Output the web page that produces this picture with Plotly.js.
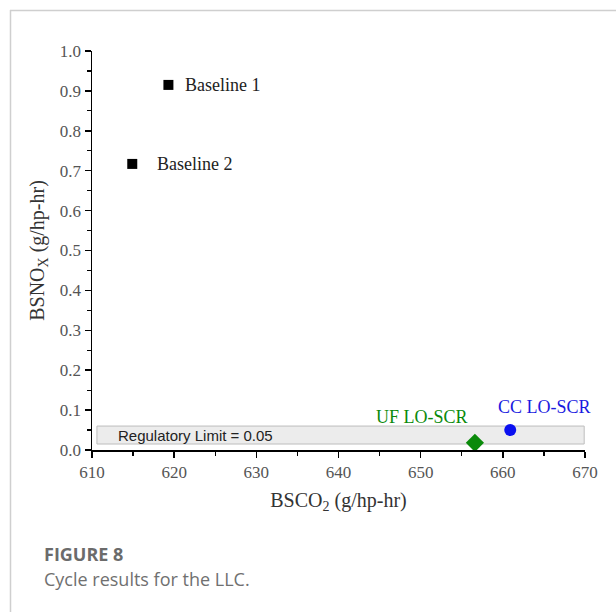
<!DOCTYPE html>
<html>
<head>
<meta charset="utf-8">
<script src="https://cdn.plot.ly/plotly-3.0.1.min.js"></script>
<style>html,body{margin:0;padding:0;background:#fff;}#chart{width:616px;height:612px;}</style>
</head>
<body>
<div id="chart"></div>
<script>
// Data
const pointNames = ["Baseline 1", "Baseline 2", "UF LO-SCR", "CC LO-SCR"];
const bsco2 = [619.3, 614.9, 656.6, 660.9];     // g/hp-hr
const bsnox = [0.915, 0.717, 0.018, 0.050];     // g/hp-hr
const regulatoryLimit = 0.05;
const regulatoryLabel = "Regulatory Limit = " + regulatoryLimit.toFixed(2);
const xTickValues = [610, 620, 630, 640, 650, 660, 670];
const yTickValues = [0, 0.1, 0.2, 0.3, 0.4, 0.5, 0.6, 0.7, 0.8, 0.9, 1.0];

// styles
const markerSymbols = ["square", "square", "diamond", "circle"];
const markerColors = ["#000000", "#000000", "#0a8a0a", "#0a10f0"];
const markerSizes = [10, 10, 14, 12];
const labelColors = ["#222222", "#222222", "#0a8a0a", "#1a1ae0"];
const labelShift = [[15, 0, "left"], [23, 0, "left"], [-53, 26, "center"], [34, 23, "center"]];

const serif = "Liberation Serif, Times New Roman, serif";

const traces = pointNames.map((n, i) => ({
  type: "scatter", mode: "markers", name: n,
  x: [bsco2[i]], y: [bsnox[i]],
  marker: {symbol: markerSymbols[i], color: markerColors[i], size: markerSizes[i]},
  showlegend: false, hoverinfo: "x+y+name"
}));

const annotations = pointNames.map((n, i) => ({
  x: bsco2[i], y: bsnox[i], xref: "x", yref: "y", text: n, showarrow: false,
  xanchor: labelShift[i][2], yanchor: "middle",
  xshift: labelShift[i][0], yshift: labelShift[i][1],
  font: {family: serif, size: 18, color: labelColors[i]}
}));

// Plot area in px: x 92..585, y 51..450
const L = 92, R = 585, T = 51, B = 450;
const px = v => (v - L) / (R - L);
const py = v => (B - v) / (B - T);

annotations.push({
  x: 610.6, y: 0.0375, xref: "x", yref: "y", xanchor: "left", yanchor: "middle", xshift: 19,
  text: regulatoryLabel, showarrow: false,
  font: {family: "Liberation Sans, Arial, sans-serif", size: 15, color: "#222"}
});
annotations.push({
  x: px(42), y: py(554), xref: "paper", yref: "paper", xanchor: "left", yanchor: "middle",
  text: "<b>FIGURE 8</b>", showarrow: false,
  font: {family: "Open Sans, Noto Sans, sans-serif", size: 18, color: "#6b6b6b"}
});
annotations.push({
  x: px(42), y: py(579), xref: "paper", yref: "paper", xanchor: "left", yanchor: "middle",
  text: "Cycle results for the LLC.", showarrow: false,
  font: {family: "Open Sans, Noto Sans, sans-serif", size: 18, color: "#707070"}
});

const shapes = [
  {type: "rect", xref: "x", yref: "y", x0: 610.6, x1: 669.9, y0: 0.015, y1: 0.06,
   fillcolor: "#ececec", line: {color: "#bdbdbd", width: 1}, layer: "below"},
  // card border (top and left)
  {type: "line", xref: "paper", yref: "paper", x0: px(10), x1: px(616), y0: py(10.5), y1: py(10.5),
   line: {color: "#cfcfcf", width: 1.5}},
  {type: "line", xref: "paper", yref: "paper", x0: px(10.5), x1: px(10.5), y0: py(10), y1: py(612),
   line: {color: "#cfcfcf", width: 1.5}}
];

const layout = {
  width: 616, height: 612,
  margin: {l: L, r: 616 - R, t: T, b: 612 - B},
  paper_bgcolor: "#fff", plot_bgcolor: "#fff",
  showlegend: false,
  xaxis: {
    range: [610, 670], tickvals: xTickValues, ticktext: xTickValues.map(String),
    showgrid: false, zeroline: false, showline: true, linecolor: "#000", linewidth: 1.5,
    ticks: "outside", ticklen: 6, tickwidth: 1.5, tickcolor: "#000",
    minor: {ticks: "outside", ticklen: 4, tickwidth: 1.2, tickcolor: "#000", dtick: 5, tick0: 610, showgrid: false},
    tickfont: {family: serif, size: 17, color: "#555"},
    title: {text: "BSCO<sub>2</sub> (g/hp-hr)", font: {family: serif, size: 20, color: "#333"}, standoff: 12},
    automargin: false, fixedrange: true
  },
  yaxis: {
    range: [0, 1], tickvals: yTickValues, ticktext: yTickValues.map(v => v.toFixed(1)),
    showgrid: false, zeroline: false, showline: true, linecolor: "#000", linewidth: 1.5,
    ticks: "outside", ticklen: 6, tickwidth: 1.5, tickcolor: "#000",
    minor: {ticks: "outside", ticklen: 4, tickwidth: 1.2, tickcolor: "#000", dtick: 0.05, tick0: 0, showgrid: false},
    tickfont: {family: serif, size: 17, color: "#555"},
    title: {text: "BSNO<sub>X</sub> (g/hp-hr)", font: {family: serif, size: 20, color: "#333"}, standoff: 10},
    automargin: false, fixedrange: true
  },
  shapes: shapes,
  annotations: annotations
};

Plotly.newPlot("chart", traces, layout, {displayModeBar: false, staticPlot: true});
</script>
</body>
</html>
